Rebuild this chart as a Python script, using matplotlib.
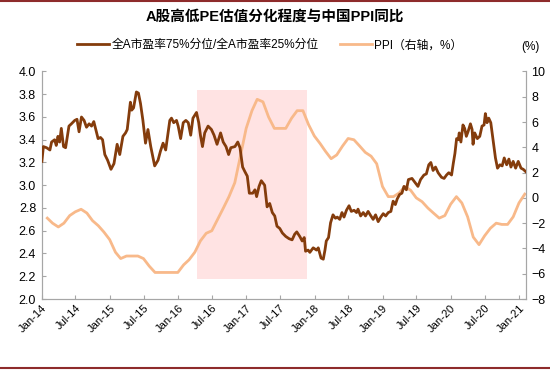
import matplotlib
matplotlib.use("Agg")
import matplotlib.pyplot as plt
import matplotlib.dates as mdates
import numpy as np
import pandas as pd
from matplotlib.lines import Line2D

plt.rcParams["font.family"] = ["Liberation Sans", "Noto Sans CJK SC", "DejaVu Sans"]

# 全A市盈率75%分位/25%分位 (周度, 读图估计)
pe_dates = [
    "2014-01-02", "2014-01-10", "2014-01-27", "2014-02-14", "2014-02-23", "2014-03-11",
    "2014-03-20", "2014-03-29", "2014-04-07", "2014-04-16", "2014-04-28", "2014-05-09",
    "2014-05-27", "2014-06-09", "2014-06-27", "2014-07-09", "2014-07-20", "2014-08-02",
    "2014-08-16", "2014-08-29", "2014-09-12", "2014-09-25", "2014-10-07", "2014-10-18",
    "2014-10-30", "2014-11-12", "2014-11-23", "2014-12-05", "2014-12-20", "2015-01-07",
    "2015-01-23", "2015-02-09", "2015-02-23", "2015-03-12", "2015-03-26", "2015-04-04",
    "2015-04-21", "2015-04-28", "2015-05-08", "2015-05-23", "2015-06-03", "2015-06-14",
    "2015-06-27", "2015-07-11", "2015-07-24", "2015-08-08", "2015-08-29", "2015-09-16",
    "2015-09-29", "2015-10-13", "2015-10-27", "2015-11-18", "2015-11-27", "2015-12-09",
    "2015-12-24", "2016-01-02", "2016-01-15", "2016-01-29", "2016-02-12", "2016-02-25",
    "2016-03-09", "2016-03-21", "2016-04-09", "2016-04-21", "2016-04-30", "2016-05-11",
    "2016-05-23", "2016-06-10", "2016-06-28", "2016-07-12", "2016-07-28", "2016-08-16",
    "2016-08-30", "2016-09-14", "2016-09-28", "2016-10-10", "2016-11-01", "2016-11-16",
    "2016-11-28", "2016-12-12", "2016-12-24", "2017-01-06", "2017-01-17", "2017-02-04",
    "2017-02-16", "2017-02-25", "2017-03-10", "2017-03-22", "2017-04-09", "2017-04-22",
    "2017-05-06", "2017-05-20", "2017-06-02", "2017-06-14", "2017-06-29", "2017-07-13",
    "2017-07-31", "2017-08-18", "2017-09-03", "2017-09-17", "2017-09-28", "2017-10-14",
    "2017-10-27", "2017-11-07", "2017-11-14", "2017-11-28", "2017-12-07", "2017-12-25",
    "2018-01-12", "2018-01-21", "2018-02-05", "2018-02-17", "2018-02-26", "2018-03-05",
    "2018-03-17", "2018-03-28", "2018-04-10", "2018-04-23", "2018-05-03", "2018-05-16",
    "2018-05-28", "2018-06-08", "2018-06-21", "2018-07-05", "2018-07-17", "2018-08-01",
    "2018-08-14", "2018-08-22", "2018-09-05", "2018-09-19", "2018-10-01", "2018-10-15",
    "2018-10-30", "2018-11-11", "2018-11-24", "2018-12-08", "2018-12-22", "2019-01-04",
    "2019-01-17", "2019-01-31", "2019-02-14", "2019-02-26", "2019-03-10", "2019-03-20",
    "2019-04-02", "2019-04-14", "2019-04-25", "2019-05-08", "2019-05-19", "2019-06-07",
    "2019-06-21", "2019-07-09", "2019-07-23", "2019-08-10", "2019-08-23", "2019-09-05",
    "2019-09-16", "2019-09-28", "2019-10-11", "2019-10-25", "2019-11-12", "2019-11-26",
    "2019-12-09", "2019-12-21", "2020-01-05", "2020-01-14", "2020-01-23", "2020-02-01",
    "2020-02-10", "2020-02-15", "2020-02-24", "2020-03-06", "2020-03-15", "2020-03-24",
    "2020-04-02", "2020-04-15", "2020-04-24", "2020-04-29", "2020-05-08", "2020-05-22",
    "2020-06-04", "2020-06-16", "2020-06-27", "2020-07-04", "2020-07-13", "2020-07-22",
    "2020-08-02", "2020-08-14", "2020-08-27", "2020-09-07", "2020-09-20", "2020-10-02",
    "2020-10-13", "2020-10-26", "2020-11-07", "2020-11-18", "2020-11-30", "2020-12-13",
    "2020-12-27", "2021-01-11", "2021-01-23", "2021-02-05",
]
pe_ratio = [
    3.21, 3.34, 3.33, 3.31, 3.38, 3.40,
    3.35, 3.43, 3.38, 3.50, 3.34, 3.33,
    3.52, 3.54, 3.57, 3.58, 3.47, 3.60,
    3.57, 3.51, 3.54, 3.52, 3.56, 3.49,
    3.41, 3.42, 3.40, 3.27, 3.22, 3.14,
    3.19, 3.36, 3.27, 3.43, 3.46, 3.49,
    3.73, 3.66, 3.68, 3.82, 3.81, 3.72,
    3.57, 3.37, 3.49, 3.34, 3.17, 3.22,
    3.30, 3.37, 3.31, 3.57, 3.59, 3.55,
    3.57, 3.52, 3.41, 3.55, 3.57, 3.55,
    3.44, 3.59, 3.64, 3.55, 3.44, 3.34,
    3.46, 3.52, 3.49, 3.44, 3.36, 3.46,
    3.38, 3.34, 3.27, 3.33, 3.34, 3.38,
    3.33, 3.16, 3.12, 3.08, 2.93, 2.93,
    2.96, 2.90, 2.99, 3.04, 3.00, 2.81,
    2.84, 2.76, 2.73, 2.64, 2.62, 2.58,
    2.55, 2.53, 2.52, 2.57, 2.59, 2.55,
    2.51, 2.54, 2.42, 2.43, 2.41, 2.45,
    2.43, 2.45, 2.36, 2.35, 2.43, 2.51,
    2.54, 2.67, 2.74, 2.71, 2.72, 2.70,
    2.76, 2.72, 2.78, 2.82, 2.77, 2.78,
    2.76, 2.79, 2.73, 2.76, 2.73, 2.77,
    2.73, 2.70, 2.74, 2.68, 2.72, 2.75,
    2.73, 2.76, 2.77, 2.86, 2.83, 2.88,
    2.92, 2.93, 2.99, 2.96, 3.05, 3.06,
    3.03, 2.99, 3.05, 3.09, 3.10, 3.18,
    3.20, 3.13, 3.16, 3.11, 3.07, 3.06,
    3.09, 3.11, 3.09, 3.19, 3.28, 3.41,
    3.40, 3.46, 3.38, 3.53, 3.50, 3.43,
    3.47, 3.54, 3.49, 3.36, 3.46, 3.41,
    3.43, 3.52, 3.53, 3.63, 3.55, 3.59,
    3.55, 3.40, 3.24, 3.15, 3.18, 3.17,
    3.24, 3.18, 3.23, 3.16, 3.21, 3.15,
    3.21, 3.15, 3.14, 3.12,
]

# 中国PPI同比 (月末, %)
ppi_months = pd.date_range("2014-01-31", "2021-01-31", freq="ME")
ppi_yoy = [
    -1.6, -2.0, -2.3, -2.0, -1.4, -1.1, -0.9, -1.2, -1.8, -2.2, -2.7, -3.3,
    -4.3, -4.8, -4.6, -4.6, -4.6, -4.8, -5.4, -5.9, -5.9, -5.9, -5.9, -5.9,
    -5.3, -4.9, -4.3, -3.4, -2.8, -2.6, -1.7, -0.8, 0.1, 1.2, 3.3, 5.5,
    6.9, 7.8, 7.6, 6.4, 5.5, 5.5, 5.5, 6.3, 6.9, 6.9, 5.8, 4.9,
    4.3, 3.7, 3.1, 3.4, 4.1, 4.7, 4.6, 4.1, 3.6, 3.3, 2.7, 0.9,
    0.1, 0.1, 0.4, 0.9, 0.6, 0.0, -0.3, -0.8, -1.2, -1.6, -1.4, -0.5,
    0.1, -0.4, -1.5, -3.1, -3.7, -3.0, -2.4, -2.0, -2.1, -2.1, -1.5, -0.4,
    0.3,
]

# 阴影区间 (右轴单位)
shade_start, shade_end = "2016-04-10", "2017-11-20"
shade_low, shade_high = -6.45, 8.55

BROWN = "#843C0C"
PEACH = "#F8B98A"
AXIS_GRAY = "#A6A6A6"

fig = plt.figure(figsize=(5.5, 3.71), dpi=100)
ax = fig.add_axes([41.7 / 550, 1 - 299 / 371, 484 / 550, 227.5 / 371])
ax2 = ax.twinx()

ax2.fill_between(pd.to_datetime([shade_start, shade_end]), shade_low, shade_high,
                 color="#FFE3E3", lw=0, zorder=0)
ax2.plot(ppi_months, ppi_yoy, color=PEACH, lw=2.0, zorder=2)
ax.plot(pd.to_datetime(pe_dates), pe_ratio, color=BROWN, lw=2.0, zorder=3)
ax.set_zorder(ax2.get_zorder() + 1)
ax.patch.set_visible(False)

ax.set_xlim(pd.Timestamp("2014-01-01"), pd.Timestamp("2021-02-05"))
ax.set_ylim(2.0, 4.0)
ax2.set_ylim(-8, 10)
ax.set_yticks(np.arange(2.0, 4.01, 0.2))
ax.yaxis.set_major_formatter(matplotlib.ticker.FormatStrFormatter("%.1f"))
ax2.set_yticks(np.arange(-8, 11, 2))

ax.xaxis.set_major_locator(mdates.MonthLocator(bymonth=[1, 7]))
ax.xaxis.set_major_formatter(mdates.DateFormatter("%b-%y"))
for lbl in ax.get_xticklabels():
    lbl.set_rotation(45)
    lbl.set_ha("right")
    lbl.set_rotation_mode("anchor")

for a in (ax, ax2):
    for s in a.spines.values():
        s.set_color(AXIS_GRAY)
    a.spines["top"].set_visible(False)
    a.tick_params(direction="in", length=3, color=AXIS_GRAY, labelsize=9,
                  labelcolor="#000000", pad=4)
ax.tick_params(axis="x", labelsize=8, pad=3)

fig.text(0.5, 0.955, "A股高低PE估值分化程度与中国PPI同比", ha="center", va="center",
         fontsize=10.5, fontweight="bold")
fig.text(0.965, 0.873, "(%)", ha="center", va="center", fontsize=8.5)

handles = [Line2D([], [], color=BROWN, lw=2.0),
           Line2D([], [], color=PEACH, lw=2.0)]
fig.legend(handles, ["全A市盈率75%分位/全A市盈率25%分位", "PPI（右轴，%）"],
           loc="center", bbox_to_anchor=(0.49, 0.878), ncol=2, frameon=False,
           fontsize=8.5, handlelength=2.7, handletextpad=0.2, columnspacing=1.8)

for yy in (0.997, 0.009):
    fig.add_artist(Line2D([0, 1], [yy, yy], transform=fig.transFigure,
                          color="#8E2B2B", lw=1.5))

fig.savefig("out.png", dpi=100)
